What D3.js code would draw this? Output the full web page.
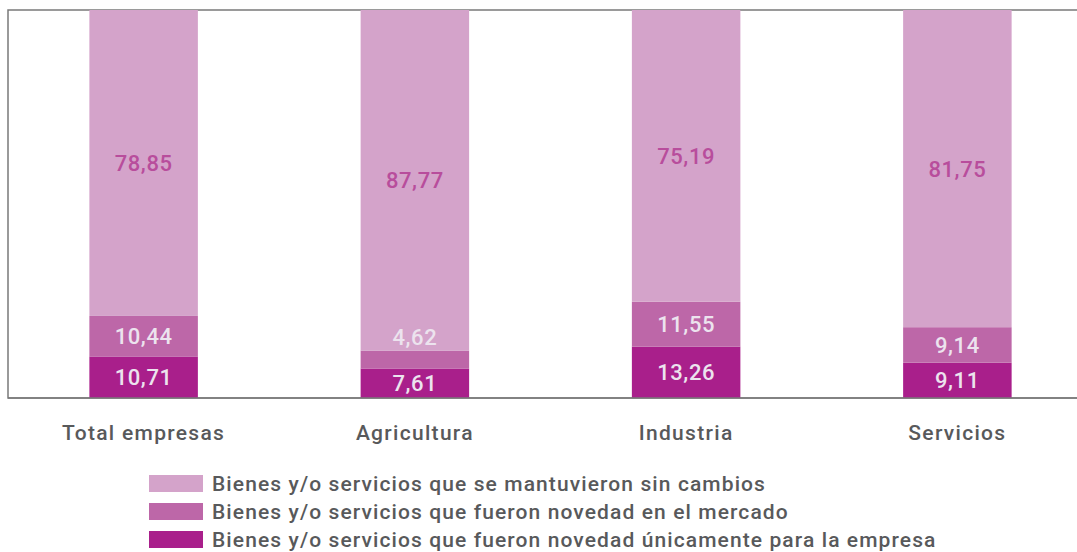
<!DOCTYPE html>
<html lang="es">
<head>
<meta charset="UTF-8">
<title>Bienes y/o servicios</title>
<script src="https://d3js.org/d3.v7.min.js"></script>
<style>
  body { margin: 0; background: #fff; }
  text { font-family: Roboto, "Open Sans", sans-serif; }
</style>
</head>
<body>
<div id="chart"></div>
<script>
// data
const categories = ["Total empresas", "Agricultura", "Industria", "Servicios"];
const seriesNames = [
  "Bienes y/o servicios que fueron novedad únicamente para la empresa",
  "Bienes y/o servicios que fueron novedad en el mercado",
  "Bienes y/o servicios que se mantuvieron sin cambios"
];
const novedadEmpresa = [10.71, 7.61, 13.26, 9.11];
const novedadMercado = [10.44, 4.62, 11.55, 9.14];
const sinCambios = [78.85, 87.77, 75.19, 81.75];

const colors = ["#a91f8b", "#bd67a8", "#d4a3ca"];
const labelColors = ["#ece3ee", "#ece3ee", "#b84d9c"];

const width = 1077, height = 552;
const plot = { left: 8, top: 10, bottom: 398, right: 1093 };

const svg = d3.select("#chart").append("svg")
  .attr("width", width).attr("height", height);

const rows = categories.map((c, i) => ({
  cat: c, s0: novedadEmpresa[i], s1: novedadMercado[i], s2: sinCambios[i]
}));
const stack = d3.stack().keys(["s0", "s1", "s2"])(rows);

const x = d3.scaleBand().domain(categories)
  .range([plot.left, plot.right])
  .paddingInner(0.6).paddingOuter(0.3);
const y = d3.scaleLinear().domain([0, 100]).range([plot.bottom, plot.top]);

// frame
svg.append("path")
  .attr("d", `M${width + 5},${plot.top}H${plot.left}V${plot.bottom}H${width + 5}`)
  .attr("fill", "none").attr("stroke", "#7a7a7a").attr("stroke-width", 1.5);

// bars
stack.forEach((layer, k) => {
  svg.append("g").selectAll("rect")
    .data(layer).join("rect")
    .attr("x", d => x(d.data.cat))
    .attr("width", x.bandwidth())
    .attr("y", d => y(d[1]))
    .attr("height", d => y(d[0]) - y(d[1]))
    .attr("fill", colors[k]);
});

// redraw the baseline over the bars
svg.append("line")
  .attr("x1", plot.left).attr("x2", width)
  .attr("y1", plot.bottom).attr("y2", plot.bottom)
  .attr("stroke", "#7a7a7a").attr("stroke-width", 1.5);

// value labels
const fmt = v => v.toFixed(2).replace(".", ",");
stack.forEach((layer, k) => {
  svg.append("g").selectAll("text")
    .data(layer).join("text")
    .attr("x", d => x(d.data.cat) + x.bandwidth() / 2)
    .attr("y", d => {
      const h = y(d[0]) - y(d[1]);
      // small segments get their label just above
      return h < 25 ? y(d[1]) - 13 : (y(d[0]) + y(d[1])) / 2;
    })
    .attr("dy", "0.36em")
    .attr("text-anchor", "middle")
    .attr("font-size", 22)
    .attr("font-weight", 500)
    .attr("letter-spacing", 0.6)
    .attr("fill", labelColors[k])
    .text(d => fmt(d[1] - d[0]));
});

// category labels
svg.append("g").selectAll("text")
  .data(categories).join("text")
  .attr("x", d => x(d) + x.bandwidth() / 2)
  .attr("y", 432)
  .attr("dy", "0.36em")
  .attr("text-anchor", "middle")
  .attr("font-size", 21)
  .attr("font-weight", 500)
  .attr("letter-spacing", 1.3)
  .attr("fill", "#58595b")
  .text(d => d);

// legend (top to bottom: sin cambios, mercado, empresa)
const legendOrder = [2, 1, 0];
const legend = svg.append("g").selectAll("g")
  .data(legendOrder).join("g")
  .attr("transform", (d, i) => `translate(149, ${475 + i * 28})`);
legend.append("rect")
  .attr("width", 54).attr("height", 17)
  .attr("fill", d => colors[d]);
legend.append("text")
  .attr("x", 63).attr("y", 8.5)
  .attr("dy", "0.36em")
  .attr("font-size", 21)
  .attr("font-weight", 500)
  .attr("letter-spacing", 1.1)
  .attr("fill", "#58595b")
  .text(d => seriesNames[d]);
</script>
</body>
</html>
